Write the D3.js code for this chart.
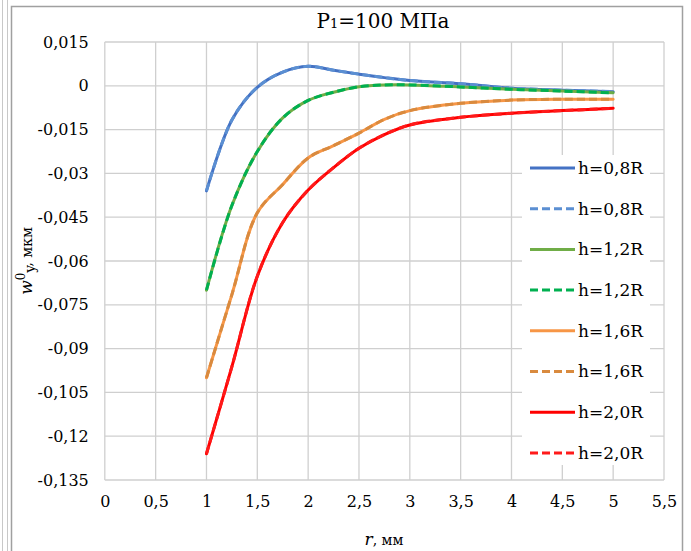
<!DOCTYPE html>
<html>
<head>
<meta charset="utf-8">
<script src="https://cdn.jsdelivr.net/npm/d3@7"></script>
<style>
  html, body { margin: 0; padding: 0; background: #fff; }
  svg { display: block; }
</style>
</head>
<body>
<svg id="chart" width="691" height="551"></svg>
<script>
// ---- data ----
const rValues = [1, 1.25, 1.5, 1.75, 2, 2.25, 2.5, 2.75, 3, 3.5, 4, 4.5, 5];
const h08 = [-0.036, -0.0117, -0.0005, 0.0047, 0.0067, 0.0053, 0.004, 0.0028, 0.0018, 0.0007, -0.0008, -0.0015, -0.002];
const h12 = [-0.07, -0.041, -0.0225, -0.011, -0.005, -0.0022, -0.0003, 0.0003, 0.0003, -0.0004, -0.0012, -0.0018, -0.0024];
const h16 = [-0.1, -0.0715, -0.0435, -0.0338, -0.0247, -0.0205, -0.0162, -0.0115, -0.0085, -0.006, -0.0049, -0.0046, -0.0046];
const h20 = [-0.126, -0.0962, -0.0652, -0.0468, -0.0357, -0.028, -0.0214, -0.0167, -0.0134, -0.0108, -0.0094, -0.0085, -0.0077];
const seriesNames = ["h=0,8R", "h=0,8R", "h=1,2R", "h=1,2R", "h=1,6R", "h=1,6R", "h=2,0R", "h=2,0R"];
const seriesData = [h08, h08, h12, h12, h16, h16, h20, h20];
const seriesColors = ["#4472C4", "#5B8FD2", "#70AD47", "#00B050", "#F79646", "#D98A3E", "#FF0000", "#FF1A1A"];
const seriesDashed = [false, true, false, true, false, true, false, true];
const xTicks = [0, 0.5, 1, 1.5, 2, 2.5, 3, 3.5, 4, 4.5, 5, 5.5];
const yTicks = [0.015, 0, -0.015, -0.03, -0.045, -0.06, -0.075, -0.09, -0.105, -0.12, -0.135];

// ---- layout ----
const FONT = "DejaVu Serif";
const svg = d3.select("#chart");
const L = 104.8, R = 664, T = 42, B = 480;
const x = d3.scaleLinear().domain([0, 5.5]).range([L, R]);
const y = d3.scaleLinear().domain([-0.135, 0.015]).range([B, T]);
const fmt = v => (v === 0 ? "0" : String(+v.toFixed(3)).replace(".", ","));

// outer frame lines (image frame)
svg.append("line").attr("x1", 2.5).attr("x2", 2.5).attr("y1", 0).attr("y2", 551).attr("stroke", "#c8c8c8").attr("stroke-width", 1);
svg.append("line").attr("x1", 7.5).attr("x2", 7.5).attr("y1", 0).attr("y2", 551).attr("stroke", "#c8c8c8").attr("stroke-width", 1);
// chart border
svg.append("path").attr("d", "M11.5,551 V6.5 H682.5 V551").attr("fill", "none").attr("stroke", "#a0a0a0").attr("stroke-width", 1.5);

// grid
const grid = svg.append("g");
grid.selectAll(".gx").data(xTicks).join("line")
  .attr("x1", d => x(d)).attr("x2", d => x(d)).attr("y1", T).attr("y2", B)
  .attr("stroke", "#cfcfcf").attr("stroke-width", 1.3);
grid.selectAll(".gy").data(yTicks).join("line")
  .attr("x1", L).attr("x2", R).attr("y1", d => y(d)).attr("y2", d => y(d))
  .attr("stroke", "#cfcfcf").attr("stroke-width", 1.3);

// axes (labels only)
const xAxis = d3.axisBottom(x).tickValues(xTicks).tickFormat(fmt).tickSize(0).tickPadding(16);
const gx = svg.append("g").attr("transform", `translate(0,${B})`).call(xAxis);
gx.attr("font-family", FONT).attr("font-size", 16);
gx.select(".domain").remove();
gx.selectAll("text").attr("fill", "#000");

const yAxis = d3.axisLeft(y).tickValues(yTicks).tickFormat(fmt).tickSize(0).tickPadding(16);
const gy = svg.append("g").attr("transform", `translate(${L},0)`).call(yAxis);
gy.attr("font-family", FONT).attr("font-size", 16);
gy.select(".domain").remove();
gy.selectAll("text").attr("fill", "#000");

// lines
const line = d3.line().x((d, i) => x(rValues[i])).y(d => y(d)).curve(d3.curveCatmullRom.alpha(0.5));
seriesData.forEach((data, k) => {
  svg.append("path").datum(data)
    .attr("d", line)
    .attr("fill", "none")
    .attr("stroke", seriesColors[k])
    .attr("stroke-width", 3)
    .attr("stroke-linecap", seriesDashed[k] ? "butt" : "round")
    .attr("stroke-dasharray", seriesDashed[k] ? "8,4" : null);
});

// legend
const lg = svg.append("g");
lg.append("rect").attr("x", 522).attr("y", 155).attr("width", 128).attr("height", 310).attr("fill", "#fff");
seriesNames.forEach((name, k) => {
  const yy = 168 + k * 40.7;
  lg.append("line").attr("x1", 530).attr("x2", 575).attr("y1", yy).attr("y2", yy)
    .attr("stroke", seriesColors[k]).attr("stroke-width", 3)
    .attr("stroke-dasharray", seriesDashed[k] ? "8,4" : null);
  lg.append("text").attr("x", 578).attr("y", yy).attr("dy", "0.35em")
    .attr("font-family", FONT).attr("font-size", 17).text(name);
});

// title
const title = svg.append("text").attr("x", 383).attr("y", 28).attr("text-anchor", "middle")
  .attr("font-family", FONT).attr("font-size", 20);
title.append("tspan").text("P");
title.append("tspan").attr("font-size", 13).text("1");
title.append("tspan").text("=100 МПа");

// x axis title
const xt = svg.append("text").attr("x", 384).attr("y", 545).attr("text-anchor", "middle")
  .attr("font-family", FONT).attr("font-size", 17);
xt.append("tspan").attr("font-style", "italic").text("r");
xt.append("tspan").attr("font-size", 14).text(", мм");

// y axis title
const yt = svg.append("text").attr("transform", `translate(32,${(T + B) / 2}) rotate(-90)`).attr("text-anchor", "middle")
  .attr("font-family", FONT).attr("font-size", 17);
yt.append("tspan").attr("font-style", "italic").text("w");
yt.append("tspan").attr("font-size", 12).attr("dy", -7).text("0");
yt.append("tspan").attr("font-size", 14).attr("dy", 10).text("y");
yt.append("tspan").attr("font-size", 14).attr("dy", -3).text(", мкм");
</script>
</body>
</html>
